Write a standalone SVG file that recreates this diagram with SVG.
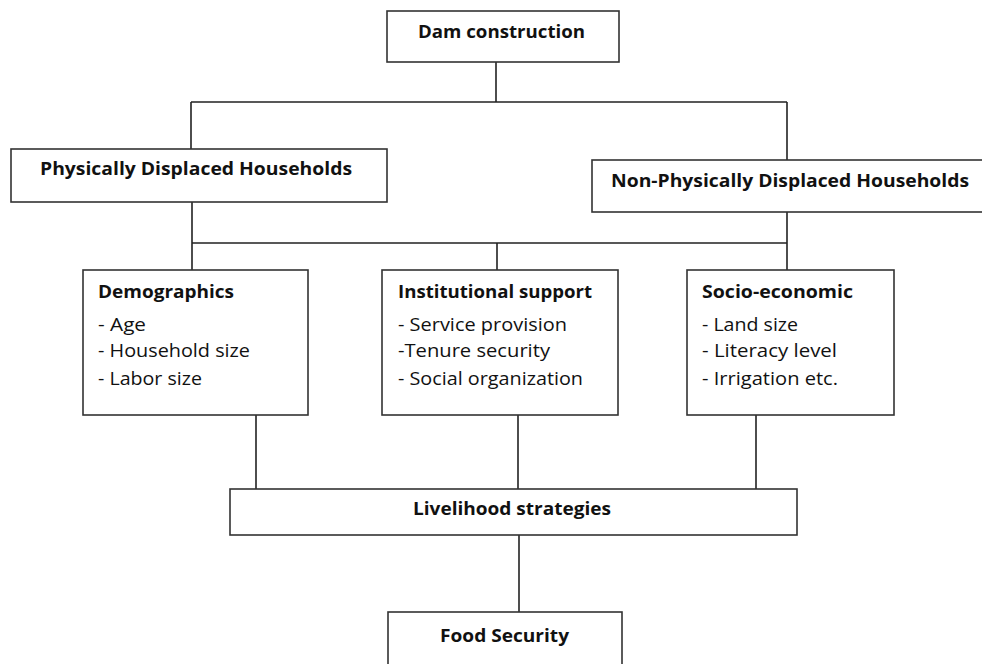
<svg xmlns="http://www.w3.org/2000/svg" width="982" height="664" viewBox="0 0 982 664">
<style>
.box{fill:#fff;stroke:#333;stroke-width:1.6}
.ln{stroke:#222;stroke-width:1.6;fill:none}
text{font-family:"Open Sans","Liberation Sans",sans-serif;fill:#111;font-size:17.5px}
.b{font-weight:bold}
</style>
<rect width="982" height="664" fill="#fff"/>
<g id="connectors">
<path class="ln" d="M496 62V102M191 102H787M191 102V149M787 102V160"/>
<path class="ln" d="M192 202V243M192 243H787M787 212V270M192 243V270M497 243V270"/>
<path class="ln" d="M256 415V489M518 415V489M756 415V489"/>
<path class="ln" d="M519 535V612"/>
</g>
<g id="dam"><rect class="box" x="387" y="11" width="232" height="51"/><text class="b" x="418" y="38" textLength="167" lengthAdjust="spacingAndGlyphs">Dam construction</text></g>
<g id="pdh"><rect class="box" x="11" y="149" width="376" height="53"/><text class="b" x="40" y="175" textLength="312" lengthAdjust="spacingAndGlyphs">Physically Displaced Households</text></g>
<g id="npdh"><rect class="box" x="592" y="160" width="395" height="52"/><text class="b" x="611" y="187" textLength="358" lengthAdjust="spacingAndGlyphs">Non-Physically Displaced Households</text></g>
<g id="demo"><rect class="box" x="83" y="270" width="225" height="145"/>
<text class="b" x="98" y="298" textLength="136" lengthAdjust="spacingAndGlyphs">Demographics</text>
<text x="98" y="331" textLength="48" lengthAdjust="spacingAndGlyphs">- Age</text>
<text x="98" y="357" textLength="152" lengthAdjust="spacingAndGlyphs">- Household size</text>
<text x="98" y="385" textLength="104" lengthAdjust="spacingAndGlyphs">- Labor size</text></g>
<g id="inst"><rect class="box" x="382" y="270" width="236" height="145"/>
<text class="b" x="398" y="298" textLength="194" lengthAdjust="spacingAndGlyphs">Institutional support</text>
<text x="398" y="331" textLength="169" lengthAdjust="spacingAndGlyphs">- Service provision</text>
<text x="398" y="357" textLength="152" lengthAdjust="spacingAndGlyphs">-Tenure security</text>
<text x="398" y="385" textLength="185" lengthAdjust="spacingAndGlyphs">- Social organization</text></g>
<g id="socio"><rect class="box" x="687" y="270" width="207" height="145"/>
<text class="b" x="702" y="298" textLength="151" lengthAdjust="spacingAndGlyphs">Socio-economic</text>
<text x="702" y="331" textLength="96" lengthAdjust="spacingAndGlyphs">- Land size</text>
<text x="702" y="357" textLength="135" lengthAdjust="spacingAndGlyphs">- Literacy level</text>
<text x="702" y="385" textLength="136" lengthAdjust="spacingAndGlyphs">- Irrigation etc.</text></g>
<g id="live"><rect class="box" x="230" y="489" width="567" height="46"/><text class="b" x="413" y="515" textLength="198" lengthAdjust="spacingAndGlyphs">Livelihood strategies</text></g>
<g id="food"><rect class="box" x="388" y="612" width="234" height="60"/><text class="b" x="440" y="642" textLength="129" lengthAdjust="spacingAndGlyphs">Food Security</text></g>
</svg>
